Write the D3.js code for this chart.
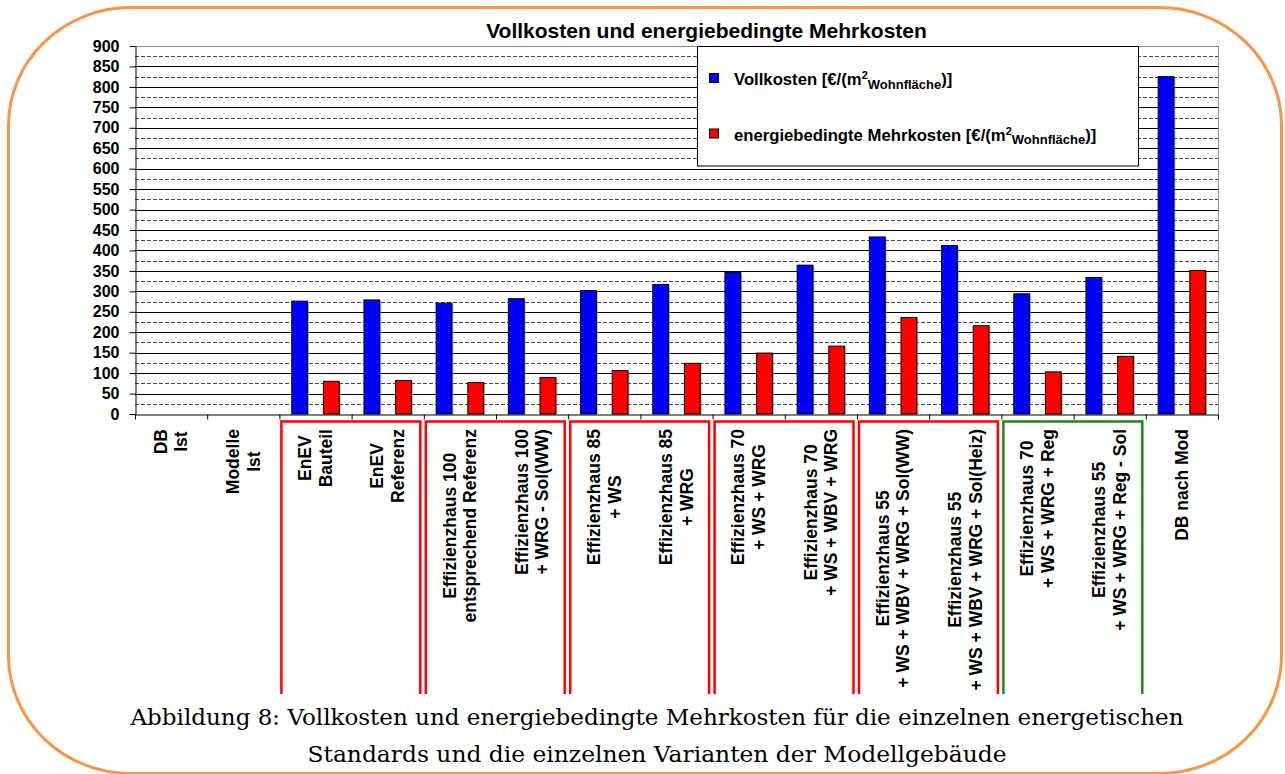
<!DOCTYPE html>
<html>
<head>
<meta charset="utf-8">
<script src="https://cdn.jsdelivr.net/npm/d3@7"></script>
<style>
	body { margin: 0; background: #fff; }
	svg { display: block; }
</style>
</head>
<body>
<div id="chart"></div>
<script>
/*global d3*/

// chart data
var categories = [
	"DB\nIst",
	"Modelle\nIst",
	"EnEV\nBauteil",
	"EnEV\nReferenz",
	"Effizienzhaus 100\nentsprechend Referenz",
	"Effizienzhaus 100\n+ WRG - Sol(WW)",
	"Effizienzhaus 85\n+ WS",
	"Effizienzhaus 85\n+ WRG",
	"Effizienzhaus 70\n+ WS + WRG",
	"Effizienzhaus 70\n+ WS + WBV + WRG",
	"Effizienzhaus 55\n+ WS + WBV + WRG + Sol(WW)",
	"Effizienzhaus 55\n+ WS + WBV + WRG + Sol(Heiz)",
	"Effizienzhaus 70\n+ WS + WRG + Reg",
	"Effizienzhaus 55\n+ WS + WRG + Reg - Sol",
	"DB nach Mod"
];
var vollkosten = [0, 0, 276, 279, 271, 282, 302, 317, 346, 364, 433, 412, 294, 334, 825];
var mehrkosten = [0, 0, 80, 82, 77, 89, 106, 124, 149, 166, 236, 216, 103, 141, 351];
var yTicks = [0, 50, 100, 150, 200, 250, 300, 350, 400, 450, 500, 550, 600, 650, 700, 750, 800, 850, 900];

// groups framed below the axis (first and last category index)
var boxFrom = [2, 4, 6, 8, 10, 12];
var boxTo = [3, 5, 7, 9, 11, 13];
var boxColor = ["#ff0000", "#ff0000", "#ff0000", "#ff0000", "#ff0000", "#1a8c1a"];

var titleText = "Vollkosten und energiebedingte Mehrkosten";
var captionLines = [
	"Abbildung 8: Vollkosten und energiebedingte Mehrkosten für die einzelnen energetischen",
	"Standards und die einzelnen Varianten der Modellgebäude"
];

var W = 1285, H = 774;
var plotLeft = 135, plotRight = 1218, plotTop = 46, plotBottom = 414;
var sans = "'Liberation Sans', Arial, sans-serif";

var svg = d3.select("#chart").append("svg")
	.attr("width", W)
	.attr("height", H);

svg.append("rect").attr("width", W).attr("height", H).attr("fill", "#fff");

//orange rounded frame
svg.append("rect")
	.attr("x", 8.5).attr("y", 7.5)
	.attr("width", 1273).attr("height", 766)
	.attr("rx", 122).attr("ry", 118)
	.attr("fill", "none")
	.attr("stroke", "#f79646")
	.attr("stroke-width", 3);

//scales
var x0 = d3.scaleBand().domain(d3.range(categories.length)).range([plotLeft, plotRight]);
var x1 = d3.scaleBand().domain(["v", "m"]).range([0, x0.bandwidth()])
	.paddingInner(0.5).paddingOuter(0.39);
var y = d3.scaleLinear().domain([0, 900]).range([plotBottom, plotTop]);
var xb = d3.scaleLinear().domain([0, categories.length]).range([plotLeft, plotRight]);

//gridlines: dashed at the half steps, solid at every tick
var grid = svg.append("g").attr("class", "grid");
grid.selectAll("line.minor").data(d3.range(25, 900, 50)).enter().append("line")
	.attr("class", "minor")
	.attr("x1", plotLeft).attr("x2", plotRight)
	.attr("y1", function(d){ return Math.round(y(d)) + 0.5; })
	.attr("y2", function(d){ return Math.round(y(d)) + 0.5; })
	.attr("stroke", "#444")
	.attr("stroke-dasharray", "4,2");
grid.selectAll("line.major").data(yTicks.slice(1)).enter().append("line")
	.attr("class", "major")
	.attr("x1", plotLeft).attr("x2", plotRight)
	.attr("y1", function(d){ return Math.round(y(d)) + 0.5; })
	.attr("y2", function(d){ return Math.round(y(d)) + 0.5; })
	.attr("stroke", function(d){ return d === 900 ? "#8c8c8c" : "#000"; });
//right border of the plot
svg.append("line")
	.attr("x1", plotRight + 0.5).attr("x2", plotRight + 0.5)
	.attr("y1", plotTop).attr("y2", plotBottom)
	.attr("stroke", "#8c8c8c");

//bars
var bars = svg.append("g").attr("class", "bars");
var series = [
	{ key: "v", values: vollkosten, color: "#0000ff" },
	{ key: "m", values: mehrkosten, color: "#ff0000" }
];
series.forEach(function(s){
	var g = bars.append("g");
	var data = s.values.map(function(v, i){ return [i, v]; }).filter(function(d){ return d[1] > 0; });
	//soft shadow
	g.selectAll("rect.sh").data(data).enter().append("rect")
		.attr("x", function(d){ return x0(d[0]) + x1(s.key) + 1.5; })
		.attr("y", function(d){ return y(d[1]) + 1; })
		.attr("width", x1.bandwidth())
		.attr("height", function(d){ return plotBottom - y(d[1]) - 1; })
		.attr("fill", "#9a9a9a")
		.attr("opacity", 0.6);
	g.selectAll("rect.bar").data(data).enter().append("rect")
		.attr("class", "bar")
		.attr("x", function(d){ return x0(d[0]) + x1(s.key); })
		.attr("y", function(d){ return y(d[1]); })
		.attr("width", x1.bandwidth())
		.attr("height", function(d){ return plotBottom - y(d[1]); })
		.attr("fill", s.color)
		.attr("stroke", "#000")
		.attr("stroke-width", 1);
});

//y axis
var yAxis = d3.axisLeft(y).tickValues(yTicks).tickSize(6).tickSizeOuter(0).tickPadding(10);
var yAxisGroup = svg.append("g").attr("transform", "translate(" + (plotLeft + 0.5) + ",0)").call(yAxis);
yAxisGroup.selectAll("text")
	.style("font-family", sans)
	.style("font-size", "16px")
	.style("font-weight", "bold")
	.attr("fill", "#000");
yAxisGroup.selectAll("line, path").attr("stroke", "#000");

//x axis with ticks between categories
var xAxis = d3.axisBottom(xb).tickValues(d3.range(categories.length + 1)).tickFormat("").tickSize(5).tickSizeOuter(0);
var xAxisGroup = svg.append("g").attr("transform", "translate(0," + (plotBottom + 0.5) + ")").call(xAxis);
xAxisGroup.selectAll("line, path").attr("stroke", "#000");

//boxes round groups of category labels (open at the bottom)
var boxes = svg.append("g").attr("class", "boxes");
boxFrom.forEach(function(f, i){
	var bx1 = xb(f) + 2;
	var bx2 = xb(boxTo[i] + 1) - 3.5;
	boxes.append("path")
		.attr("d", "M" + bx1 + ",694V421.5H" + bx2 + "V694")
		.attr("fill", "none")
		.attr("stroke", boxColor[i])
		.attr("stroke-width", 2.5);
});

//rotated multi-line category labels, centred lines, block aligned to the top
var lineGap = 20.7;
var labels = svg.append("g").attr("class", "xlabels");
categories.forEach(function(c, i){
	var lines = c.split("\n");
	var cx = x0(i) + x0.bandwidth() / 2;
	var g = labels.append("g").attr("transform", "translate(" + cx + ",429) rotate(-90)");
	var texts = g.selectAll("text").data(lines).enter().append("text")
		.attr("text-anchor", "middle")
		.attr("y", function(d, k){ return (k - (lines.length - 1) / 2) * lineGap + 6; })
		.style("font-family", sans)
		.style("font-size", "17.5px")
		.style("font-weight", "bold")
		.text(function(d){ return d; });
	var maxW = 0;
	texts.each(function(){ maxW = Math.max(maxW, this.getComputedTextLength()); });
	texts.attr("x", -maxW / 2);
});

//title
svg.append("text")
	.attr("x", 706.5).attr("y", 37.5)
	.attr("text-anchor", "middle")
	.style("font-family", sans)
	.style("font-size", "21px")
	.style("font-weight", "bold")
	.text(titleText);

//legend
var legend = svg.append("g").attr("class", "legend");
legend.append("rect")
	.attr("x", 697.5).attr("y", 46.5)
	.attr("width", 441).attr("height", 119.5)
	.attr("fill", "#fff")
	.attr("stroke", "#000");
var legendNames = ["Vollkosten [€/(m", "energiebedingte Mehrkosten [€/(m"];
var legendY = [85, 140.5];
series.forEach(function(s, i){
	legend.append("rect")
		.attr("x", 709.5).attr("y", legendY[i] - 11.5)
		.attr("width", 9).attr("height", 9)
		.attr("fill", s.color)
		.attr("stroke", "#000");
	var t = legend.append("text")
		.attr("x", 734).attr("y", legendY[i])
		.style("font-family", sans)
		.style("font-size", "16.7px")
		.style("font-weight", "bold");
	t.append("tspan").text(legendNames[i]);
	t.append("tspan").attr("dy", -6).style("font-size", "11px").text("2");
	t.append("tspan").attr("dy", 9.5).style("font-size", "13px").text("Wohnfläche");
	t.append("tspan").attr("dy", -3.5).text(")]");
});

//caption below the chart
svg.selectAll("text.caption").data(captionLines).enter().append("text")
	.attr("class", "caption")
	.attr("x", 657).attr("y", function(d, i){ return 725 + i * 37; })
	.attr("text-anchor", "middle")
	.attr("textLength", function(d, i){ return i === 0 ? 1053 : 699; })
	.attr("lengthAdjust", "spacingAndGlyphs")
	.style("font-family", "'DejaVu Serif', serif")
	.style("font-size", "23px")
	.text(function(d){ return d; });
</script>
</body>
</html>
